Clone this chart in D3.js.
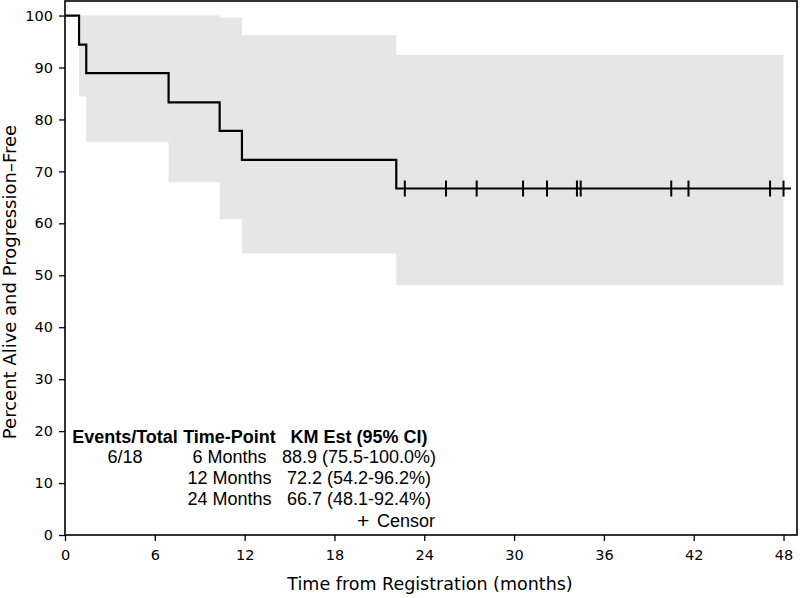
<!DOCTYPE html>
<html>
<head>
<meta charset="utf-8">
<script src="https://cdn.jsdelivr.net/npm/d3@7"></script>
<style>
  html, body { margin: 0; padding: 0; background: #fff; }
  svg { display: block; }
</style>
</head>
<body>
<svg id="chart" width="800" height="598"></svg>
<script>
// ---- data ----
const stepTimes = [0, 0.94, 1.42, 6.92, 10.33, 11.82, 22.13];
const survival  = [100, 94.4, 88.9, 83.3, 77.8, 72.2, 66.7];
const lastTime  = 48.5;
const ciTimes   = [0.94, 1.42, 6.92, 10.33, 11.82, 22.13];
const ciLower   = [84.4, 75.6, 67.9, 60.8, 54.2, 48.1];
const ciUpper   = [100, 100, 100, 99.6, 96.2, 92.4];
const ciEnd     = 48.0;
const censorTimes = [22.7, 25.45, 27.5, 30.6, 32.2, 34.2, 34.45, 40.5, 41.65, 47.1, 48.0];
const xTicks = [0, 6, 12, 18, 24, 30, 36, 42, 48];
const yTicks = [0, 10, 20, 30, 40, 50, 60, 70, 80, 90, 100];
const tableHeader = ["Events/Total", "Time-Point", "KM Est (95% CI)"];
const tableRows = [
  ["6/18", "6 Months", "88.9 (75.5-100.0%)"],
  ["", "12 Months", "72.2 (54.2-96.2%)"],
  ["", "24 Months", "66.7 (48.1-92.4%)"]
];
const xLabel = "Time from Registration (months)";
const yLabel = "Percent Alive and Progression\u2013Free";
const legendSymbol = "+";
const legendLabel = "Censor";

// ---- layout ----
const svg = d3.select("#chart");
const m = {left: 65, top: 1, right: 3, bottom: 63};
const W = 800 - m.left - m.right, H = 598 - m.top - m.bottom;
const x = d3.scaleLinear().domain([0, 48.9]).range([m.left, m.left + W]);
const y = d3.scaleLinear().domain([0, 102.8]).range([m.top + H, m.top]);

// CI band
const bandPts = ciTimes.map((t, i) => ({t, lo: ciLower[i], hi: ciUpper[i]}));
bandPts.push({t: ciEnd, lo: ciLower[ciLower.length - 1], hi: ciUpper[ciUpper.length - 1]});
svg.append("path")
  .datum(bandPts)
  .attr("fill", "#e6e6e6")
  .attr("d", d3.area().curve(d3.curveStepAfter)
    .x(d => x(d.t)).y0(d => y(d.lo)).y1(d => y(d.hi)));

// KM step line
const linePts = stepTimes.map((t, i) => ({t, s: survival[i]}));
linePts.push({t: lastTime, s: survival[survival.length - 1]});
svg.append("path")
  .datum(linePts)
  .attr("fill", "none")
  .attr("stroke", "#000")
  .attr("stroke-width", 2.2)
  .attr("d", d3.line().curve(d3.curveStepAfter).x(d => x(d.t)).y(d => y(d.s)));

// censor marks
const sAt = t => { let v = survival[0]; stepTimes.forEach((st, i) => { if (t >= st) v = survival[i]; }); return v; };
svg.append("g").selectAll("line").data(censorTimes).join("line")
  .attr("x1", d => x(d)).attr("x2", d => x(d))
  .attr("y1", d => y(sAt(d)) - 8).attr("y2", d => y(sAt(d)) + 8)
  .attr("stroke", "#000").attr("stroke-width", 2);

// frame
svg.append("rect")
  .attr("x", m.left).attr("y", m.top).attr("width", W).attr("height", H)
  .attr("fill", "none").attr("stroke", "#000").attr("stroke-width", 1.6);

// axes
const xAxis = svg.append("g").attr("transform", `translate(0,${m.top + H})`)
  .call(d3.axisBottom(x).tickValues(xTicks).tickSize(6).tickPadding(9).tickFormat(d3.format("d")));
const yAxis = svg.append("g").attr("transform", `translate(${m.left},0)`)
  .call(d3.axisLeft(y).tickValues(yTicks).tickSize(6).tickPadding(6).tickFormat(d3.format("d")));
[xAxis, yAxis].forEach(g => {
  g.select(".domain").remove();
  g.selectAll(".tick line").attr("stroke", "#000").attr("stroke-width", 1.3);
  g.selectAll(".tick text").attr("fill", "#000")
    .style("font-family", "'DejaVu Sans', sans-serif").style("font-size", "14.5px");
});

// axis labels
svg.append("text").attr("x", x(0) + W / 2 - 1).attr("y", 590)
  .attr("text-anchor", "middle")
  .style("font-family", "'DejaVu Sans', sans-serif").style("font-size", "17.5px")
  .text(xLabel);
svg.append("text").attr("transform", "translate(16,282) rotate(-90)")
  .attr("text-anchor", "middle")
  .style("font-family", "'DejaVu Sans', sans-serif").style("font-size", "18px")
  .text(yLabel);

// table
const colX = [125, 229.5, 359];
const rowY = [442.7, 462.7, 484, 505];
const tbl = svg.append("g").style("font-family", "'Liberation Sans', Arial, sans-serif").style("font-size", "18px");
tableHeader.forEach((h, i) => tbl.append("text").attr("x", colX[i]).attr("y", rowY[0])
  .attr("text-anchor", "middle").style("font-weight", "bold").text(h));
tableRows.forEach((r, j) => r.forEach((c, i) => {
  if (c) tbl.append("text").attr("x", colX[i]).attr("y", rowY[j + 1]).attr("text-anchor", "middle").text(c);
}));
tbl.append("text").attr("x", 357).attr("y", 527.5).attr("text-anchor", "start").style("font-size", "21px").text(legendSymbol);
tbl.append("text").attr("x", 435).attr("y", 526.7).attr("text-anchor", "end").text(legendLabel);
</script>
</body>
</html>
